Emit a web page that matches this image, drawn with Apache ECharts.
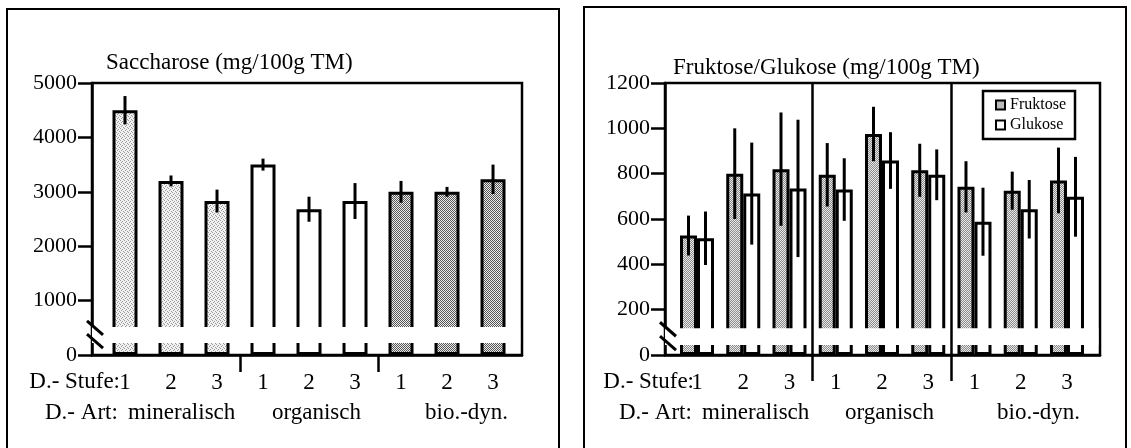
<!DOCTYPE html>
<html><head><meta charset="utf-8">
<script src="https://cdn.jsdelivr.net/npm/echarts@6/dist/echarts.min.js"></script>
<style>html,body{margin:0;padding:0;background:#fff}#c{width:1131px;height:448px}</style>
</head><body><div id="c"></div>
<script>
// ---- data ----
const stufeLabels = ['1','2','3','1','2','3','1','2','3'];
const artLabels = ['mineralisch','organisch','bio.-dyn.'];
const sacchValues = [4500,3200,2830,3500,2680,2830,3000,3000,3230];
const sacchErrors = [260,100,210,110,230,330,200,90,270];
const fruktoseValues = [527,800,820,795,975,815,742,725,770];
const fruktoseErrors = [88,200,250,140,120,117,113,84,145];
const glukoseValues = [515,712,735,730,858,795,588,643,698];
const glukoseErrors = [118,225,303,138,125,112,150,129,176];
const seriesNames = ['Fruktose','Glukose'];
const leftTitle = 'Saccharose (mg/100g TM)';
const rightTitle = 'Fruktose/Glukose (mg/100g TM)';
const leftBreak = [220, 515];
const rightBreak = [44, 118];

const FONT = '"Liberation Serif","Times New Roman",serif';

function pattern(w,h,bg,fg,pts){
  const c=document.createElement('canvas'); c.width=w; c.height=h;
  const g=c.getContext('2d'); g.fillStyle=bg; g.fillRect(0,0,w,h);
  g.fillStyle=fg; pts.forEach(p=>g.fillRect(p[0],p[1],1,1));
  return {image:c, repeat:'repeat'};
}
const fillMineral = pattern(4,4,'#f2f2f2','#9a9a9a',[[0,0],[2,1],[1,2],[3,3]]);
const fillOrganic = '#ffffff';
const fillBio = pattern(4,4,'#eeeeee','#555555',[[0,0],[2,0],[1,1],[3,1],[0,2],[2,2],[1,3],[3,3]]);
const fillFrukt = pattern(6,4,'#e8e8e8','#8c8c8c',[[0,1],[1,0],[2,1],[3,2],[4,3],[5,2],[0,3],[1,2],[2,3],[3,0],[4,1],[5,0]]);
const groupFills = [fillMineral, fillOrganic, fillBio];

const L = {min:-0.7174, max:8.630};
const R = {min:-0.692, max:8.714};

function errRender(offset){
  return function(params, api){
    const x=api.value(0), v=api.value(1), e=api.value(2);
    const p1=api.coord([x, v-e]), p2=api.coord([x, v+e]);
    return {type:'line', shape:{x1:p1[0]+offset,y1:p1[1],x2:p2[0]+offset,y2:p2[1]},
      style:{stroke:'#000', lineWidth:3}};
  };
}

const axisLineStyle = {color:'#000', width:2.5};
function xAxisDef(gi, rng, tickLen){
  return {gridIndex:gi, type:'value', min:rng.min, max:rng.max,
    axisLine:{show:true, onZero:false, lineStyle:axisLineStyle},
    splitLine:{show:false},
    axisTick:{show:true, customValues:[2.5,5.5], length:tickLen, lineStyle:axisLineStyle},
    axisLabel:{customValues:[0,1,2,3,4,5,6,7,8], formatter:v=>stufeLabels[Math.round(v)],
      margin:16, color:'#000', fontFamily:FONT, fontSize:23}};
}
function yAxisDef(gi, max, interval){
  return {gridIndex:gi, type:'value', min:0, max:max, interval:interval,
    axisLine:{show:true, onZero:false, lineStyle:axisLineStyle},
    splitLine:{show:false},
    axisTick:{show:true, length:14, lineStyle:axisLineStyle},
    axisLabel:{margin:15, color:'#000', fontFamily:FONT, fontSize:22, formatter:v=>String(v)}};
}

const option = {
  animation:false,
  backgroundColor:'#fff',
  grid:[
    {left:92, top:83, width:430, height:272, show:true, borderColor:'#000', borderWidth:2.5, backgroundColor:'transparent'},
    {left:665, top:83, width:435, height:272, show:true, borderColor:'#000', borderWidth:2.5, backgroundColor:'transparent'}
  ],
  xAxis:[xAxisDef(0,L,17), xAxisDef(1,R,26)],
  yAxis:[yAxisDef(0,5000,1000), yAxisDef(1,1200,200)],
  legend:{data:seriesNames, orient:'vertical', left:983, top:91, padding:[6,9,6,12],
    itemWidth:9, itemHeight:9, itemGap:4, itemTextGap:16, icon:'rect',
    borderColor:'#000', borderWidth:2.5, backgroundColor:'#fff',
    itemStyle:{borderWidth:2, borderColor:'#000'},
    textStyle:{fontFamily:FONT, fontSize:16, color:'#000'}},
  series:[
    {type:'bar', xAxisIndex:0, yAxisIndex:0, barWidth:25, z:2,
      itemStyle:{borderColor:'#000', borderWidth:3},
      data:sacchValues.map((v,i)=>({value:[i,v], itemStyle:{color:groupFills[Math.floor(i/3)]}})),
      markArea:{silent:true, z:4, itemStyle:{color:'#fff', borderWidth:0},
        data:[[{xAxis:L.min, yAxis:leftBreak[0]},{xAxis:8.59, yAxis:leftBreak[1]}]]}},
    {type:'custom', xAxisIndex:0, yAxisIndex:0, z:3, renderItem:errRender(0),
      data:sacchValues.map((v,i)=>[i,v,sacchErrors[i]])},
    {name:seriesNames[0], type:'bar', xAxisIndex:1, yAxisIndex:1, barWidth:17, barGap:'0%', z:2,
      itemStyle:{color:fillFrukt, borderColor:'#000', borderWidth:3},
      data:fruktoseValues.map((v,i)=>[i,v]),
      markArea:{silent:true, z:4, itemStyle:{color:'#fff', borderWidth:0},
        data:[[{xAxis:R.min, yAxis:rightBreak[0]},{xAxis:8.68, yAxis:rightBreak[1]}]]}},
    {name:seriesNames[1], type:'bar', xAxisIndex:1, yAxisIndex:1, barWidth:17, barGap:'0%', z:2,
      itemStyle:{color:'#fff', borderColor:'#000', borderWidth:3},
      data:glukoseValues.map((v,i)=>[i,v])},
    {type:'custom', xAxisIndex:1, yAxisIndex:1, z:3, renderItem:errRender(-8.5),
      data:fruktoseValues.map((v,i)=>[i,v,fruktoseErrors[i]])},
    {type:'custom', xAxisIndex:1, yAxisIndex:1, z:3, renderItem:errRender(8.5),
      data:glukoseValues.map((v,i)=>[i,v,glukoseErrors[i]]),
      markLine:{silent:true, z:6, symbol:'none', label:{show:false},
        lineStyle:{color:'#000', width:2.5, type:'solid'},
        data:[{xAxis:2.5},{xAxis:5.5}]}}
  ]
};

const chart = echarts.init(document.getElementById('c'), null, {renderer:'canvas'});
chart.setOption(option);

function txt(x,y,text,align,size){
  return {type:'text', x:x, y:y, z:10, silent:true,
    style:{text:text, fill:'#000', font:(size||23)+'px '+FONT, align:align||'left', verticalAlign:'middle'}};
}
function breakMarks(gi, rng, brk){
  const top = chart.convertToPixel({gridIndex:gi},[rng.min, brk[1]]);
  const bot = chart.convertToPixel({gridIndex:gi},[rng.min, brk[0]]);
  const ax = top[0];
  const st = {stroke:'#000', lineWidth:3};
  return [
    {type:'line', z:10, shape:{x1:ax-5,y1:top[1]-6,x2:ax+11,y2:top[1]+8}, style:st},
    {type:'line', z:10, shape:{x1:ax-5,y1:bot[1]-9,x2:ax+11,y2:bot[1]+5}, style:st}
  ];
}
const els = [
  {type:'rect', z:0, shape:{x:7,y:9,width:552,height:470}, style:{fill:'none', stroke:'#000', lineWidth:2}},
  {type:'rect', z:0, shape:{x:584,y:7,width:542,height:470}, style:{fill:'none', stroke:'#000', lineWidth:2}},
  txt(106,63,leftTitle),
  txt(673,68,rightTitle),
  txt(120,382,'D.- Stufe:','right'),
  txt(694,382,'D.- Stufe:','right'),
  txt(45,413,'D.- Art:'),
  txt(128,413,artLabels[0]), txt(272,413,artLabels[1]), txt(425,413,artLabels[2]),
  txt(619,413,'D.- Art:'),
  txt(702,413,artLabels[0]), txt(845,413,artLabels[1]), txt(997,413,artLabels[2])
].concat(breakMarks(0,L,leftBreak), breakMarks(1,R,rightBreak));
chart.setOption({graphic:{elements:els}});
</script>
</body></html>
